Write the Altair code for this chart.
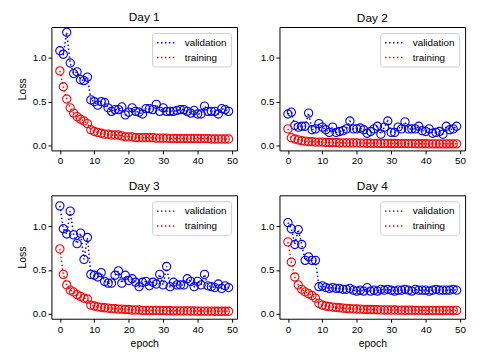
import altair as alt
import pandas as pd

epochs = list(range(50))

day1_val = [1.08, 1.04, 1.29, 0.94, 0.82, 0.84, 0.75, 0.74, 0.78, 0.52,
            0.50, 0.46, 0.50, 0.49, 0.43, 0.39, 0.41, 0.41, 0.44, 0.35,
            0.38, 0.43, 0.39, 0.38, 0.36, 0.42, 0.42, 0.41, 0.47, 0.39,
            0.43, 0.39, 0.39, 0.39, 0.40, 0.41, 0.41, 0.39, 0.37, 0.40,
            0.36, 0.36, 0.45, 0.39, 0.39, 0.39, 0.36, 0.42, 0.41, 0.39]
day1_train = [0.85, 0.67, 0.53, 0.43, 0.37, 0.33, 0.30, 0.28, 0.25, 0.18,
              0.16, 0.15, 0.14, 0.13, 0.13, 0.12, 0.12, 0.12, 0.11, 0.10,
              0.10, 0.10, 0.09, 0.09, 0.09, 0.09, 0.09, 0.09, 0.085, 0.085,
              0.085, 0.085, 0.08, 0.08, 0.08, 0.08, 0.08, 0.08, 0.08, 0.08,
              0.08, 0.08, 0.08, 0.08, 0.075, 0.075, 0.075, 0.075, 0.075, 0.075]

day2_val = [0.36, 0.38, 0.23, 0.21, 0.22, 0.22, 0.37, 0.18, 0.19, 0.25,
            0.21, 0.18, 0.15, 0.21, 0.15, 0.16, 0.17, 0.19, 0.28, 0.19,
            0.19, 0.20, 0.18, 0.14, 0.16, 0.19, 0.22, 0.13, 0.21, 0.28,
            0.15, 0.15, 0.21, 0.19, 0.27, 0.19, 0.19, 0.19, 0.22, 0.17,
            0.16, 0.19, 0.14, 0.15, 0.16, 0.13, 0.22, 0.18, 0.19, 0.22]
day2_train = [0.19, 0.09, 0.075, 0.065, 0.055, 0.05, 0.045, 0.045, 0.04, 0.04,
              0.04, 0.035, 0.035, 0.035, 0.035, 0.03, 0.03, 0.03, 0.03, 0.03,
              0.03, 0.028, 0.028, 0.027, 0.027, 0.026, 0.026, 0.025, 0.025, 0.025,
              0.024, 0.024, 0.023, 0.023, 0.023, 0.022, 0.022, 0.022, 0.021, 0.021,
              0.021, 0.02, 0.02, 0.02, 0.02, 0.02, 0.02, 0.02, 0.02, 0.02]

day3_val = [1.23, 0.97, 0.91, 1.17, 0.90, 0.80, 0.92, 0.62, 0.87, 0.45,
            0.44, 0.42, 0.47, 0.37, 0.35, 0.35, 0.44, 0.49, 0.35, 0.44,
            0.38, 0.40, 0.36, 0.31, 0.36, 0.37, 0.32, 0.36, 0.34, 0.45,
            0.33, 0.54, 0.31, 0.36, 0.33, 0.33, 0.33, 0.40, 0.37, 0.31,
            0.37, 0.33, 0.45, 0.32, 0.31, 0.30, 0.34, 0.29, 0.32, 0.30]
day3_train = [0.74, 0.45, 0.33, 0.27, 0.25, 0.22, 0.20, 0.18, 0.17, 0.10,
              0.09, 0.08, 0.075, 0.07, 0.065, 0.06, 0.06, 0.055, 0.055, 0.05,
              0.05, 0.045, 0.045, 0.045, 0.04, 0.04, 0.04, 0.04, 0.04, 0.038,
              0.038, 0.036, 0.036, 0.035, 0.035, 0.035, 0.034, 0.034, 0.033, 0.033,
              0.032, 0.032, 0.032, 0.031, 0.031, 0.03, 0.03, 0.03, 0.03, 0.03]

day4_val = [1.04, 0.97, 0.79, 0.96, 0.79, 0.61, 0.65, 0.61, 0.61, 0.31,
            0.32, 0.30, 0.29, 0.30, 0.29, 0.29, 0.28, 0.28, 0.29, 0.27,
            0.26, 0.27, 0.26, 0.30, 0.26, 0.27, 0.26, 0.28, 0.27, 0.28,
            0.27, 0.26, 0.27, 0.27, 0.28, 0.27, 0.26, 0.28, 0.27, 0.27,
            0.27, 0.26, 0.27, 0.28, 0.27, 0.27, 0.27, 0.27, 0.28, 0.27]
day4_train = [0.82, 0.59, 0.42, 0.33, 0.28, 0.25, 0.23, 0.21, 0.18, 0.12,
              0.10, 0.09, 0.083, 0.078, 0.074, 0.07, 0.066, 0.063, 0.06, 0.058,
              0.056, 0.054, 0.052, 0.05, 0.05, 0.048, 0.047, 0.046, 0.045, 0.045,
              0.044, 0.044, 0.043, 0.043, 0.042, 0.042, 0.042, 0.041, 0.041, 0.041,
              0.04, 0.04, 0.04, 0.04, 0.04, 0.04, 0.04, 0.04, 0.04, 0.04]

days = {1: (day1_val, day1_train), 2: (day2_val, day2_train),
        3: (day3_val, day3_train), 4: (day4_val, day4_train)}

series_names = ["validation", "training"]
series_colors = ["#0000ff", "#ff0000"]

rows = []
for d, (val, tr) in days.items():
    for e, v in zip(epochs, val):
        rows.append({"day": d, "epoch": e, "series": "validation", "loss": v})
    for e, v in zip(epochs, tr):
        rows.append({"day": d, "epoch": e, "series": "training", "loss": v})
df = pd.DataFrame(rows)

FONT = "Liberation Sans"


def panel(d, ytitle, xtitle):
    sub = df[df.day == d]
    x = alt.X("epoch:Q", scale=alt.Scale(domain=[-2.45, 51.45], nice=False, zero=False),
              axis=alt.Axis(values=[0, 10, 20, 30, 40, 50], title=xtitle if xtitle else None,
                            format="d"))
    y = alt.Y("loss:Q", scale=alt.Scale(domain=[-0.055, 1.35], nice=False, zero=False),
              axis=alt.Axis(values=[0.0, 0.5, 1.0], format=".1f",
                            title=ytitle if ytitle else None))
    color = alt.Color("series:N",
                      scale=alt.Scale(domain=series_names, range=series_colors),
                      legend=alt.Legend(title=None, orient="top-right", offset=6,
                                        symbolType="M-1,0H3", symbolDash=[1.5, 2.5],
                                        symbolStrokeWidth=1.5, symbolSize=100,
                                        labelFontSize=10, labelFont=FONT,
                                        labelColor="black",
                                        labelOffset=17, rowPadding=4, padding=4,
                                        strokeColor="#cccccc", fillColor="white",
                                        cornerRadius=3))
    color_nl = alt.Color("series:N",
                         scale=alt.Scale(domain=series_names, range=series_colors),
                         legend=None)
    line = alt.Chart(sub).mark_line(strokeDash=[1.5, 2.5], strokeWidth=1.5).encode(
        x=x, y=y, color=color, detail="series:N")
    pts = alt.Chart(sub).mark_point(shape="circle", filled=False, size=70,
                                    strokeWidth=1.1, opacity=1).encode(
        x=x, y=y, color=color_nl)
    return alt.layer(line, pts).properties(
        width=188, height=125,
        title=alt.TitleParams(f"Day {d}", fontSize=12, font=FONT, fontWeight="normal",
                              color="black", offset=2))


top = alt.hconcat(panel(1, "Loss", None), panel(2, None, None), spacing=21).resolve_legend(
    color="independent").resolve_scale(color="independent")
bottom = alt.hconcat(panel(3, "Loss", "epoch"), panel(4, None, "epoch"), spacing=21).resolve_legend(
    color="independent").resolve_scale(color="independent")

chart = alt.vconcat(top, bottom, spacing=13.5).resolve_legend(
    color="independent").resolve_scale(color="independent").configure_view(
    stroke="black", strokeWidth=1).configure_axis(
    grid=False, domain=False, tickColor="black", tickSize=3.5, labelColor="black",
    labelFont=FONT, labelFontSize=10, titleFont=FONT, titleFontSize=10.5,
    titleColor="black", titleFontWeight="normal", labelPadding=2, titlePadding=5
).properties(padding={"left": 9, "top": 0, "right": 5, "bottom": 5})

chart.save("out.html", embed_options={"renderer": "svg", "actions": False})
